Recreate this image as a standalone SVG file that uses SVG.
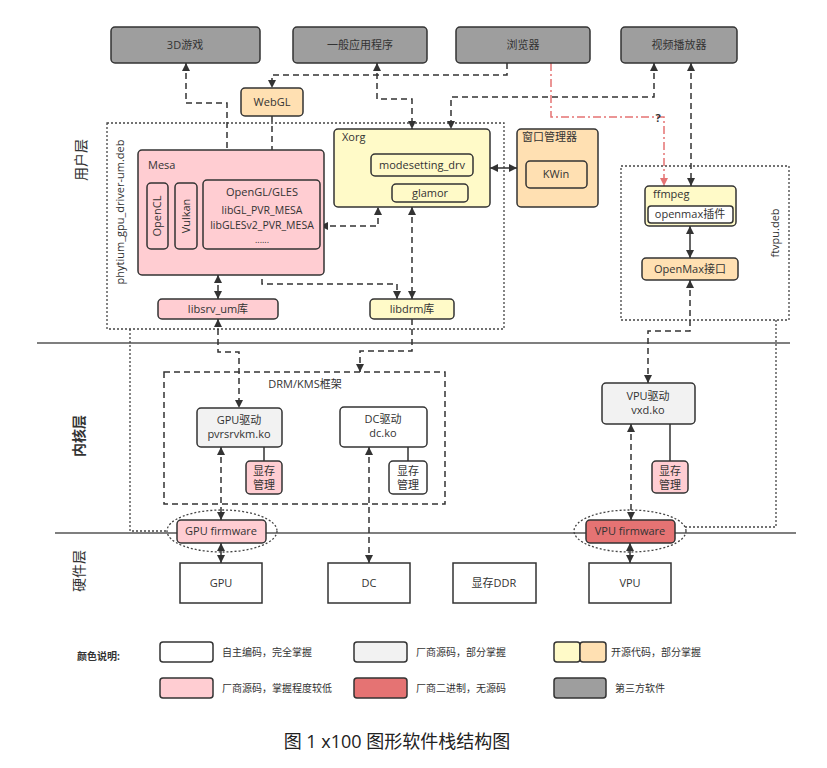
<svg xmlns="http://www.w3.org/2000/svg" width="827" height="768" viewBox="0 0 827 768">
<defs>
<marker id="ar" viewBox="0 0 10 10" refX="10" refY="5" markerWidth="8" markerHeight="8" markerUnits="userSpaceOnUse" orient="auto-start-reverse"><path d="M0,0 L10,5 L0,10 z" fill="#333"/></marker>
<marker id="arr" viewBox="0 0 10 10" refX="10" refY="5" markerWidth="8" markerHeight="8" markerUnits="userSpaceOnUse" orient="auto-start-reverse"><path d="M0,0 L10,5 L0,10 z" fill="#e57373"/></marker>
<style>
text{font-family:"Open Sans","Noto Sans CJK SC",sans-serif;font-size:11px;fill:#333}
.c{text-anchor:middle}
.b{stroke:#333;stroke-width:1.5}
.g{fill:#9e9e9e}
.o{fill:#ffe0b2}
.y{fill:#fffac8}
.p{fill:#ffcdd2}
.r{fill:#e57373}
.l{fill:#f2f2f2}
.w{fill:#fff}
.d{fill:none;stroke:#333;stroke-width:1.5;stroke-dasharray:6 4}
.s{fill:none;stroke:#333;stroke-width:1.5}
.t{fill:none;stroke:#444;stroke-width:1.3;stroke-dasharray:2 2}
.lay{fill:none;stroke:#555;stroke-width:1.5}
</style>
</defs>
<rect width="827" height="768" fill="#fff"/>
<g id="layers">
<path class="lay" d="M37,343 H790"/>
<path class="lay" d="M55,533 H796"/>
<text transform="translate(86,160) rotate(-90)" class="c" style="font-size:14px">用户层</text>
<text transform="translate(84,436) rotate(-90)" class="c" style="font-size:14px;font-weight:bold">内核层</text>
<text transform="translate(84,571) rotate(-90)" class="c" style="font-size:14px">硬件层</text>
</g>
<g id="packages">
<rect class="t" x="107" y="123" width="397" height="206"/>
<text transform="translate(124,212) rotate(-90)" class="c">phytium_gpu_driver-um.deb</text>
<rect class="t" x="621" y="166" width="168" height="154"/>
<text transform="translate(779,233) rotate(-90)" class="c">ftvpu.deb</text>
<rect class="d" x="164" y="372" width="281" height="132"/>
<text x="305" y="388" class="c">DRM/KMS框架</text>
<ellipse class="t" cx="222" cy="531" rx="55" ry="21"/>
<ellipse class="t" cx="630" cy="531" rx="56" ry="21"/>
</g>
<g id="connectors">
<path class="d" d="M186,63 V103 H227 V180" marker-start="url(#ar)" marker-end="url(#ar)"/>
<path class="d" d="M272,116 V180" marker-end="url(#ar)"/>
<path class="d" d="M507,63 V75 H272 V88" marker-end="url(#ar)"/>
<path class="d" d="M377,63 V99 H412 V129" marker-start="url(#ar)" marker-end="url(#ar)"/>
<path class="d" d="M654,63 V97 H451 V129" marker-start="url(#ar)" marker-end="url(#ar)"/>
<path d="M551,63 V117 H664 V186" fill="none" stroke="#e57373" stroke-width="1.5" stroke-dasharray="8 3 2 3" marker-end="url(#arr)"/>
<text x="658" y="122" class="c" style="font-weight:bold">?</text>
<path class="d" d="M691,63 V186" marker-start="url(#ar)" marker-end="url(#ar)"/>
<path class="s" d="M490,168 H517" marker-start="url(#ar)" marker-end="url(#ar)"/>
<path class="d" d="M320,226 H378 V207" marker-start="url(#ar)" marker-end="url(#ar)"/>
<path class="d" d="M262,249 V284 H397 V299" marker-start="url(#ar)" marker-end="url(#ar)"/>
<path class="d" d="M412,207 V299" marker-start="url(#ar)" marker-end="url(#ar)"/>
<path class="d" d="M218,275 V299" marker-start="url(#ar)" marker-end="url(#ar)"/>
<path class="d" d="M218,319 V352 H239 V408" marker-start="url(#ar)" marker-end="url(#ar)"/>
<path class="d" d="M412,319 V351 H360 V372" marker-end="url(#ar)"/>
<path class="d" d="M221,447 V520" marker-start="url(#ar)" marker-end="url(#ar)"/>
<path class="d" d="M369,447 V563" marker-start="url(#ar)" marker-end="url(#ar)"/>
<path class="d" d="M631,424 V520" marker-start="url(#ar)" marker-end="url(#ar)"/>
<path class="d" d="M690,280 V331 H648 V383" marker-start="url(#ar)" marker-end="url(#ar)"/>
<path class="s" d="M690,226 V258" marker-start="url(#ar)" marker-end="url(#ar)"/>
<path class="s" d="M221,543 V563" marker-start="url(#ar)" marker-end="url(#ar)"/>
<path class="s" d="M630,543 V563" marker-start="url(#ar)" marker-end="url(#ar)"/>
<path class="s" d="M264,447 V461 M408,447 V461 M670,424 V461"/>
<path class="t" d="M130,329 V531 H168"/>
<path class="t" d="M776,320 V527 H685"/>
</g>
<g id="n-3d"><rect class="b g" x="111" y="27" width="149" height="36" rx="4"/><text x="185" y="49" class="c">3D游戏</text></g>
<g id="n-app"><rect class="b g" x="293" y="27" width="134" height="36" rx="4"/><text x="360" y="49" class="c">一般应用程序</text></g>
<g id="n-browser"><rect class="b g" x="456" y="27" width="134" height="36" rx="4"/><text x="523" y="49" class="c">浏览器</text></g>
<g id="n-video"><rect class="b g" x="621" y="27" width="116" height="36" rx="4"/><text x="679" y="49" class="c">视频播放器</text></g>
<g id="n-webgl"><rect class="b o" x="241" y="88" width="62" height="28" rx="4"/><text x="272" y="106" class="c">WebGL</text></g>
<g id="n-xorg">
<rect class="b y" x="334" y="129" width="156" height="78" rx="4"/><text x="342" y="141">Xorg</text>
<rect class="b y" x="371" y="154" width="102" height="22" rx="4"/><text x="422" y="169" class="c">modesetting_drv</text>
<rect class="b y" x="392" y="184" width="76" height="18" rx="4"/><text x="430" y="197" class="c">glamor</text>
</g>
<g id="n-wm">
<rect class="b o" x="517" y="129" width="81" height="78" rx="4"/><text x="522" y="141">窗口管理器</text>
<rect class="b o" x="526" y="161" width="61" height="27" rx="4"/><text x="556" y="178" class="c">KWin</text>
</g>
<g id="n-mesa">
<rect class="b p" x="138" y="150" width="186" height="125" rx="4"/><text x="148" y="169">Mesa</text>
<rect class="b p" x="147" y="183" width="21" height="66" rx="4"/><text transform="translate(161,216) rotate(-90)" class="c">OpenCL</text>
<rect class="b p" x="175" y="183" width="22" height="66" rx="4"/><text transform="translate(190,216) rotate(-90)" class="c">Vulkan</text>
<rect class="b p" x="203" y="180" width="117" height="69" rx="4"/>
<text x="262" y="196" class="c">OpenGL/GLES</text>
<text x="262" y="214" class="c" style="font-size:10.5px">libGL_PVR_MESA</text>
<text x="262" y="229" class="c" style="font-size:10.5px">libGLESv2_PVR_MESA</text>
<text x="262" y="243" class="c" style="font-size:9px">......</text>
</g>
<g id="n-libsrv"><rect class="b p" x="158" y="299" width="120" height="20" rx="4"/><text x="218" y="313" class="c">libsrv_um库</text></g>
<g id="n-libdrm"><rect class="b y" x="370" y="299" width="84" height="20" rx="4"/><text x="412" y="313" class="c">libdrm库</text></g>
<g id="n-ffmpeg">
<rect class="b y" x="645" y="186" width="91" height="40" rx="4"/><text x="653" y="198">ffmpeg</text>
<rect class="b w" x="648" y="206" width="85" height="17" rx="3"/><text x="690" y="218" class="c">openmax插件</text>
</g>
<g id="n-openmax"><rect class="b o" x="642" y="258" width="96" height="22" rx="4"/><text x="690" y="273" class="c">OpenMax接口</text></g>
<g id="n-gpudrv"><rect class="b l" x="197" y="408" width="85" height="39" rx="4"/><text x="239" y="424" class="c">GPU驱动</text><text x="239" y="438" class="c">pvrsrvkm.ko</text></g>
<g id="n-gpumem"><rect class="b p" x="246" y="461" width="36" height="33" rx="4"/><text x="264" y="475" class="c">显存</text><text x="264" y="489" class="c">管理</text></g>
<g id="n-dcdrv"><rect class="b w" x="340" y="407" width="87" height="40" rx="4"/><text x="383" y="423" class="c">DC驱动</text><text x="383" y="437" class="c">dc.ko</text></g>
<g id="n-dcmem"><rect class="b w" x="389" y="461" width="38" height="33" rx="4"/><text x="408" y="475" class="c">显存</text><text x="408" y="489" class="c">管理</text></g>
<g id="n-vpudrv"><rect class="b l" x="602" y="383" width="93" height="41" rx="4"/><text x="648" y="400" class="c">VPU驱动</text><text x="648" y="414" class="c">vxd.ko</text></g>
<g id="n-vpumem"><rect class="b p" x="652" y="461" width="36" height="32" rx="4"/><text x="670" y="475" class="c">显存</text><text x="670" y="489" class="c">管理</text></g>
<g id="n-gpufw"><rect class="b p" x="177" y="520" width="89" height="23" rx="4"/><text x="221" y="535" class="c">GPU firmware</text></g>
<g id="n-vpufw"><rect class="b r" x="586" y="520" width="89" height="23" rx="4"/><text x="630" y="535" class="c">VPU firmware</text></g>
<g id="n-gpu"><rect class="b w" x="180" y="563" width="82" height="40"/><text x="221" y="587" class="c">GPU</text></g>
<g id="n-dc"><rect class="b w" x="328" y="563" width="82" height="40"/><text x="369" y="587" class="c">DC</text></g>
<g id="n-ddr"><rect class="b w" x="453" y="563" width="83" height="40"/><text x="494" y="587" class="c">显存DDR</text></g>
<g id="n-vpu"><rect class="b w" x="589" y="563" width="82" height="40"/><text x="630" y="587" class="c">VPU</text></g>
<g id="legend">
<text x="77" y="660" style="font-size:10px;font-weight:bold">颜色说明:</text>
<rect class="b w" x="160" y="642" width="53" height="20" rx="3"/><text x="222" y="656" style="font-size:10px">自主编码，完全掌握</text>
<rect class="b l" x="354" y="642" width="53" height="20" rx="3"/><text x="416" y="656" style="font-size:10px">厂商源码，部分掌握</text>
<rect class="b y" x="554" y="642" width="26" height="20" rx="3"/><rect class="b o" x="580" y="642" width="26" height="20" rx="3"/><text x="611" y="656" style="font-size:10px">开源代码，部分掌握</text>
<rect class="b p" x="160" y="678" width="53" height="20" rx="3"/><text x="222" y="692" style="font-size:10px">厂商源码，掌握程度较低</text>
<rect class="b r" x="354" y="678" width="53" height="20" rx="3"/><text x="416" y="692" style="font-size:10px">厂商二进制，无源码</text>
<rect class="b g" x="554" y="678" width="52" height="20" rx="3"/><text x="615" y="692" style="font-size:10px">第三方软件</text>
</g>
<text x="397" y="748" class="c" style="font-size:18px;fill:#222">图 1 x100 图形软件栈结构图</text>
</svg>
